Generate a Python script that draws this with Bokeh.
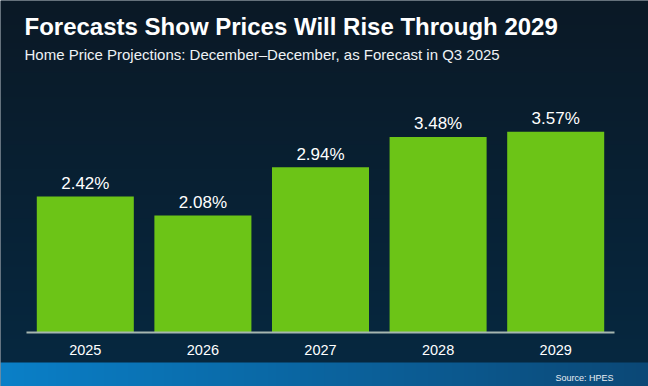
import numpy as np
from bokeh.plotting import figure
from bokeh.models import ColumnDataSource, Label, FixedTicker, Range1d
from bokeh.core.properties import value
from bokeh.embed import file_html
from bokeh.resources import INLINE

# ---- data ----
years = ["2025", "2026", "2027", "2028", "2029"]
growth = [2.42, 2.08, 2.94, 3.48, 3.57]
value_labels = [f"{g:.2f}%" for g in growth]
title_text = "Forecasts Show Prices Will Rise Through 2029"
subtitle_text = "Home Price Projections: December\u2013December, as Forecast in Q3 2025"
source_text = "Source: HPES"

# ---- layout (reference pixel grid 648x386) ----
W, H = 648, 386
REF_W, REF_H = 648, 386
AX_L, AX_R = 26, 614
BASE = 332
PX_PER_PCT = 56.2
slot = (AX_R - AX_L) / len(years)


def dx(px):
    return -0.5 + (px - AX_L) / slot


def dy(py):
    return (BASE - py) / PX_PER_PCT


FONT = "Liberation Sans"

p = figure(width=W, height=H,
           x_range=Range1d(dx(0), dx(REF_W)),
           y_range=Range1d(dy(REF_H), dy(0)),
           output_backend="svg", toolbar_location=None, tools="",
           title=None, y_axis_type=None, min_border=0)
p.outline_line_color = None
p.grid.visible = False
p.background_fill_color = "#0a2134"
p.border_fill_color = "#0a2134"

# ---- background gradient (styling only) ----
nx, ny = 162, 193
img = np.zeros((ny, nx), dtype=np.uint32)
view = img.view(dtype=np.uint8).reshape((ny, nx, 4))
top_c = np.array([11, 25, 38])
bot_c = np.array([6, 40, 64])
band_l = np.array([10, 128, 200])
band_r = np.array([12, 72, 118])
BAND_TOP = 362
for r in range(ny):
    yref = REF_H - (r + 0.5) * REF_H / ny
    for c in range(nx):
        if yref >= BAND_TOP:
            t = (c + 0.5) / nx
            col = band_l * (1 - t) + band_r * t
        else:
            t = yref / BAND_TOP
            col = top_c * (1 - t) + bot_c * t
        view[r, c, :3] = col.astype(np.uint8)
        view[r, c, 3] = 255
p.image_rgba(image=[img], x=dx(0), y=dy(REF_H),
             dw=dx(REF_W) - dx(0), dh=dy(0) - dy(REF_H), level="image")

# ---- bars ----
src = ColumnDataSource(dict(
    x=list(range(len(years))),
    top=growth,
    label=value_labels,
    label_y=[g + 13 / PX_PER_PCT for g in growth],
))
p.vbar(x="x", top="top", bottom=0, width=0.825, source=src,
       fill_color="#6cc417", line_color=None)
p.text(x="x", y="label_y", text="label", source=src,
       text_align="center", text_baseline="alphabetic",
       text_font=value(FONT), text_font_size="17px", text_color="#ffffff")

# ---- axis ----
ax = p.xaxis[0]
ax.fixed_location = 0
ax.bounds = (-0.5, len(years) - 0.5)
ax.ticker = FixedTicker(ticks=list(range(len(years))))
ax.major_label_overrides = {i: y for i, y in enumerate(years)}
ax.major_tick_line_color = None
ax.minor_tick_line_color = None
ax.axis_line_color = "#a6b6b0"
ax.axis_line_width = 2
ax.major_label_text_color = "#ffffff"
ax.major_label_text_font = FONT
ax.major_label_text_font_size = "14.5px"
ax.major_label_standoff = 6

# ---- titles / source ----
p.add_layout(Label(x=dx(24), y=dy(26), text=title_text, text_font=FONT,
                   text_font_style="bold", text_font_size="24px",
                   text_color="#ffffff", text_baseline="alphabetic",
                   text_align="left"))
p.add_layout(Label(x=dx(24), y=dy(54), text=subtitle_text, text_font=FONT,
                   text_font_size="15px", text_color="#eef2f5",
                   text_baseline="alphabetic", text_align="left"))
p.add_layout(Label(x=dx(613), y=dy(377), text=source_text, text_font=FONT,
                   text_font_size="9px", text_color="#e8eef3",
                   text_baseline="alphabetic", text_align="right"))

open("out.html", "w").write(file_html(p, INLINE))
